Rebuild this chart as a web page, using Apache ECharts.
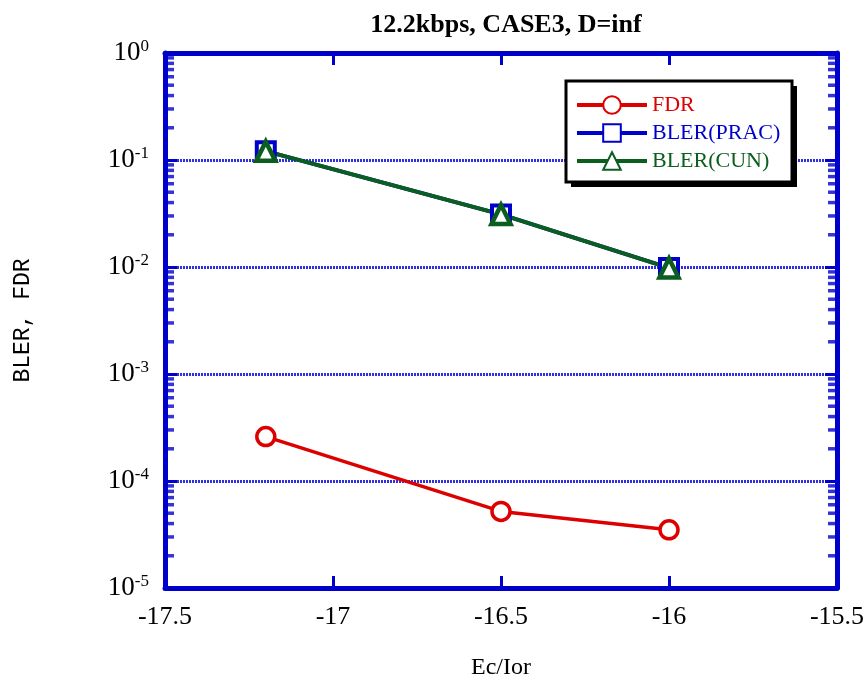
<!DOCTYPE html>
<html>
<head>
<meta charset="utf-8">
<script src="https://cdn.jsdelivr.net/npm/echarts@6/dist/echarts.min.js"></script>
<style>
  html, body { margin: 0; padding: 0; background: #fff; }
  #chart { width: 867px; height: 681px; }
</style>
</head>
<body>
<div id="chart"></div>
<script>
// 横轴 Ec/Ior
const ecIor = [-17.2, -16.5, -16];
// 各曲线数值
const fdr = [2.6e-4, 5.2e-5, 3.5e-5];
const blerPrac = [0.121, 0.031, 0.0098];
const blerCun = [0.121, 0.031, 0.0098];
const seriesNames = ['FDR', 'BLER(PRAC)', 'BLER(CUN)'];
// 对数轴次刻度位置
const minorMult = [2, 3, 4, 5, 6, 7, 8, 9];
const decades = [1e-5, 1e-4, 1e-3, 1e-2, 1e-1];

const RED = '#dd0000', BLUE = '#0000cc', GREEN = '#0a5e1e';
const AXIS = '#0000cc';
const SERIF = '"Liberation Serif", "Times New Roman", serif';
const MONO = '"Liberation Mono", "Courier New", monospace';

let minorVals = [];
decades.forEach(d => minorMult.forEach(m => minorVals.push(d * m)));

let chart = echarts.init(document.getElementById('chart'));

function pairs(ys) { return ecIor.map((x, i) => [x, ys[i]]); }

chart.setOption({
  animation: false,
  title: {
    text: '12.2kbps, CASE3, D=inf',
    left: 501, textAlign: 'center', top: 7,
    textStyle: { fontFamily: SERIF, fontWeight: 'bold', fontSize: 26, color: '#000' }
  },
  grid: { left: 165, right: 30, top: 53, bottom: 93, outerBoundsMode: 'none' },
  // 图例的白底黑框和黑色阴影
  graphic: [
    { type: 'rect', z: 5, shape: { x: 571, y: 86, width: 226, height: 101 }, style: { fill: '#000' } },
    { type: 'rect', z: 6, shape: { x: 566, y: 81, width: 226, height: 101 }, style: { fill: '#fff', stroke: '#000', lineWidth: 3 } }
  ],
  legend: {
    orient: 'vertical', left: 570, top: 89, z: 10,
    itemWidth: 70, itemHeight: 22, itemGap: 6,
    padding: [5, 5, 5, 5],
    lineStyle: { width: 4 },
    textStyle: { fontFamily: SERIF, fontSize: 22 },
    data: [
      { name: seriesNames[0], textStyle: { color: RED } },
      { name: seriesNames[1], textStyle: { color: BLUE } },
      { name: seriesNames[2], textStyle: { color: GREEN } }
    ]
  },
  xAxis: [{
    type: 'value', min: -17.5, max: -15.5, interval: 0.5,
    name: 'Ec/Ior', nameLocation: 'middle', nameGap: 68,
    nameTextStyle: { fontFamily: SERIF, fontSize: 24, color: '#000' },
    axisLine: { onZero: false, lineStyle: { color: AXIS, width: 5 } },
    axisTick: { inside: true, length: 12, lineStyle: { color: AXIS, width: 3 } },
    axisLabel: { margin: 16, fontFamily: SERIF, fontSize: 26, color: '#000' },
    splitLine: { show: false }
  }, {
    type: 'value', position: 'top', min: -17.5, max: -15.5, interval: 0.5,
    axisLine: { onZero: false, lineStyle: { color: AXIS, width: 5 } },
    axisTick: { inside: true, length: 12, lineStyle: { color: AXIS, width: 3 } },
    axisLabel: { show: false },
    splitLine: { show: false }
  }],
  yAxis: [{
    type: 'log', logBase: 10, min: 1e-5, max: 1,
    name: 'BLER, FDR', nameLocation: 'middle', nameGap: 131,
    nameTextStyle: { fontFamily: MONO, fontSize: 23, color: '#000' },
    axisLine: { onZero: false, lineStyle: { color: AXIS, width: 5 } },
    axisTick: { inside: true, length: 12, lineStyle: { color: AXIS, width: 3 } },
    axisLabel: {
      margin: 16,
      formatter: v => '{b|10}{s|' + Math.round(Math.log10(v)) + '}',
      rich: {
        b: { fontFamily: SERIF, fontSize: 27, color: '#000', lineHeight: 30 },
        s: { fontFamily: SERIF, fontSize: 17, color: '#000', verticalAlign: 'top', lineHeight: 30, padding: [0, 0, 14, 0] }
      }
    },
    splitLine: { show: true, lineStyle: { color: '#3030e0', width: 3, type: [2, 1] } }
  }, {
    type: 'log', logBase: 10, min: 1e-5, max: 1, position: 'right',
    axisLine: { onZero: false, lineStyle: { color: AXIS, width: 5 } },
    axisTick: { inside: true, length: 12, lineStyle: { color: AXIS, width: 3 } },
    axisLabel: { show: false },
    splitLine: { show: false }
  }],
  series: [
    // 左右两侧次刻度
    {
      type: 'scatter', silent: true, clip: false, z: 3,
      symbol: 'rect', symbolSize: [9, 3.5], symbolOffset: [4.5, 0],
      itemStyle: { color: AXIS },
      data: minorVals.map(v => [-17.5, v])
    },
    {
      type: 'scatter', silent: true, clip: false, z: 3,
      symbol: 'rect', symbolSize: [9, 3.5], symbolOffset: [-4.5, 0],
      itemStyle: { color: AXIS },
      data: minorVals.map(v => [-15.5, v])
    },
    {
      name: seriesNames[0], type: 'line', data: pairs(fdr),
      symbol: 'circle', symbolSize: 18,
      lineStyle: { color: RED, width: 3.5 },
      itemStyle: { color: '#fff', borderColor: RED, borderWidth: 3.5 }
    },
    {
      name: seriesNames[1], type: 'line', data: pairs(blerPrac),
      symbol: 'rect', symbolSize: 18,
      lineStyle: { color: BLUE, width: 4 },
      itemStyle: { color: '#fff', borderColor: BLUE, borderWidth: 4 }
    },
    {
      name: seriesNames[2], type: 'line', data: pairs(blerCun),
      symbol: 'triangle', symbolSize: 19,
      lineStyle: { color: GREEN, width: 4 },
      itemStyle: { color: '#fff', borderColor: GREEN, borderWidth: 4.5 }
    }
  ]
});
</script>
</body>
</html>
